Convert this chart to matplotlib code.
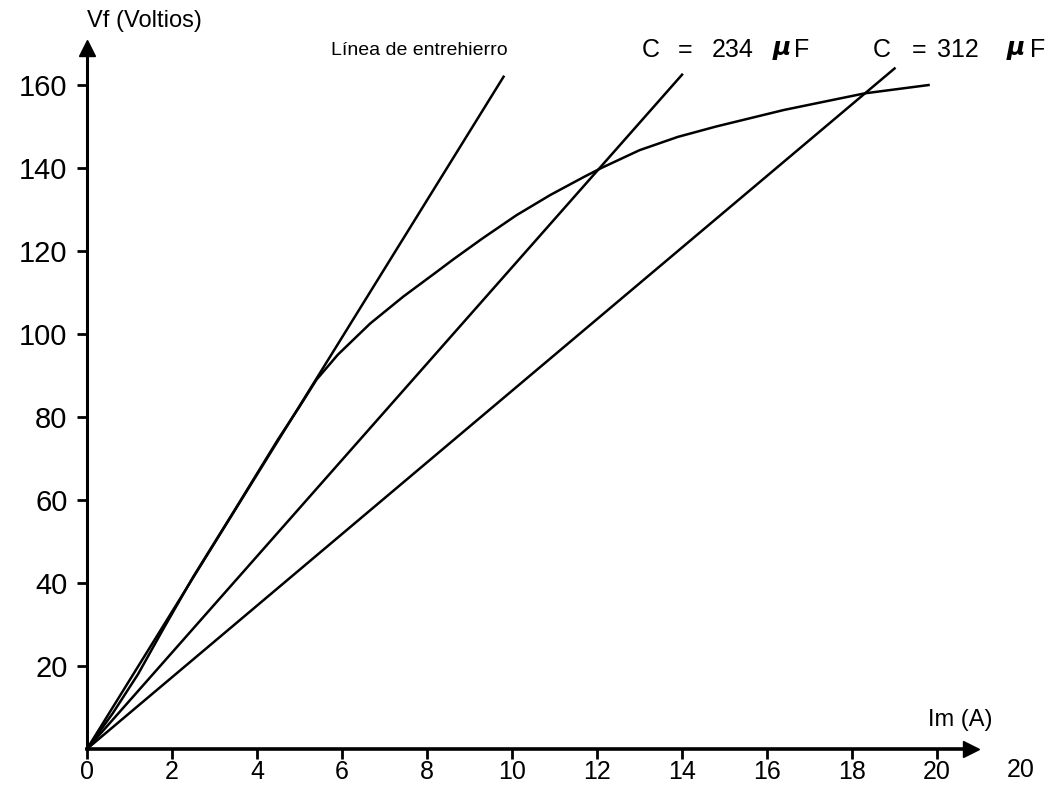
import matplotlib
matplotlib.use("Agg")
import matplotlib.pyplot as plt

plt.rcParams['font.family'] = ['Liberation Sans', 'DejaVu Sans']

# magnetization curve (Im in A, Vf in V)
curve_im = [0, 0.6, 1.2, 1.8, 2.5, 3.5, 4.5, 5.0, 5.4, 5.9, 6.66, 7.44, 8.23, 8.62,
            9.3, 10.1, 10.9, 11.7, 12.1, 13.0, 13.9, 14.8, 16.4, 18.3, 19.8]
curve_vf = [0, 8.5, 18, 29, 41.5, 58, 74.7, 82.5, 89.0, 95.0, 102.5, 109.0, 115.0, 118.0,
            123.0, 128.6, 133.5, 137.9, 140.0, 144.3, 147.5, 150, 154, 158, 160]

# straight lines through origin: end points
airgap_im = [0, 9.8]
airgap_vf = [0, 162]
c234_im = [0, 14.0]
c234_vf = [0, 162.5]
c312_im = [0, 19.0]
c312_vf = [0, 164]

xticks = [0, 2, 4, 6, 8, 10, 12, 14, 16, 18, 20]
yticks = [20, 40, 60, 80, 100, 120, 140, 160]

fig = plt.figure(figsize=(10.5, 7.87), dpi=100)
ax = fig.add_axes([0.0748, 0.0432, 0.8986, 0.912])
ax.set_xlim(-0.2, 22)
ax.set_ylim(-1, 172)

lw = 1.8
ax.plot(curve_im, curve_vf, color='black', lw=lw)
ax.plot(airgap_im, airgap_vf, color='black', lw=lw)
ax.plot(c234_im, c234_vf, color='black', lw=lw)
ax.plot(c312_im, c312_vf, color='black', lw=lw)

# axes with arrows
for s in ['top', 'right']:
    ax.spines[s].set_visible(False)
ax.spines['left'].set_position(('data', 0))
ax.spines['bottom'].set_position(('data', 0))
ax.spines['left'].set_bounds(0, 167)
ax.spines['bottom'].set_bounds(0, 20.6)
ax.spines['left'].set_linewidth(2.2)
ax.spines['bottom'].set_linewidth(2.6)
ax.plot([0], [169], marker='^', color='black', markersize=11, clip_on=False)
ax.plot([20.8], [0], marker='>', color='black', markersize=11, clip_on=False)

ax.set_xticks(xticks)
ax.set_xticklabels([str(v) for v in xticks])
ax.set_yticks(yticks)
ax.set_yticklabels([str(v) for v in yticks])
ax.tick_params(axis='y', direction='out', length=7, width=2, labelsize=21, pad=7)
ax.tick_params(axis='x', direction='out', length=7, width=2, labelsize=18, pad=1)

ty = 168.4
ax.text(0.0, 175.5, 'Vf (Voltios)', fontsize=17, ha='left', va='center', clip_on=False)
ax.text(20.54, 7, 'Im (A)', fontsize=17, ha='center', va='center')
ax.text(7.81, ty, 'Línea de entrehierro', fontsize=14, ha='center', va='center')
# C = 234 uF
ax.text(13.04, ty, 'C', fontsize=18, ha='left', va='center')
ax.text(13.9, ty, '=', fontsize=18, ha='left', va='center')
ax.text(14.71, ty, '234', fontsize=18, ha='left', va='center')
ax.text(16.12, ty, r'$\boldsymbol{\mu}$', fontsize=18, ha='left', va='center')
ax.text(16.64, ty, 'F', fontsize=18, ha='left', va='center')
# C = 312 uF
ax.text(18.49, ty, 'C', fontsize=18, ha='left', va='center')
ax.text(19.41, ty, '=', fontsize=18, ha='left', va='center')
ax.text(20.0, ty, '312', fontsize=18, ha='left', va='center')
ax.text(21.62, ty, r'$\boldsymbol{\mu}$', fontsize=18, ha='left', va='center')
ax.text(22.19, ty, 'F', fontsize=18, ha='left', va='center')
fig.text(0.972, 0.022, '20', fontsize=18, ha='center', va='center')

fig.savefig('out.png', dpi=100)
